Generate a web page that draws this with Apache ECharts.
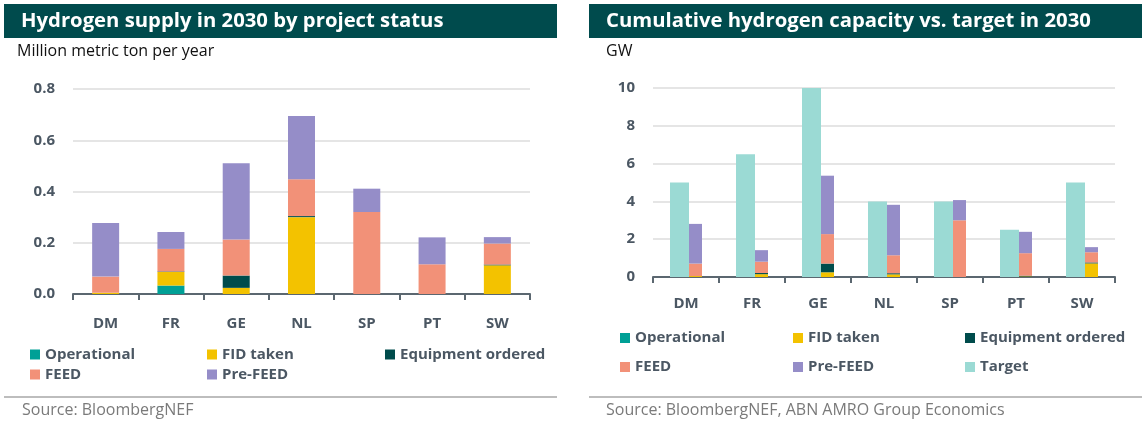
<!DOCTYPE html>
<html>
<head>
<meta charset="utf-8">
<script src="https://cdn.jsdelivr.net/npm/echarts@6/dist/echarts.min.js"></script>
<style>
html,body{margin:0;padding:0;background:#fff;}
#c{width:1147px;height:426px;}
</style>
</head>
<body>
<div id="c"></div>
<script>
// ---- Data ----
const categories = ['DM', 'FR', 'GE', 'NL', 'SP', 'PT', 'SW'];

// Left: Hydrogen supply in 2030 (million metric ton per year)
const supplyOperational = [0, 0.033, 0, 0, 0, 0, 0];
const supplyFid = [0.005, 0.053, 0.024, 0.300, 0, 0, 0.112];
const supplyEquipment = [0, 0.002, 0.048, 0.004, 0, 0, 0.003];
const supplyFeed = [0.063, 0.088, 0.141, 0.144, 0.320, 0.116, 0.082];
const supplyPreFeed = [0.209, 0.066, 0.297, 0.247, 0.091, 0.105, 0.025];
const supplyTicks = [0, 0.2, 0.4, 0.6, 0.8];

// Right: cumulative capacity vs target (GW)
const capTarget = [5, 6.5, 10, 4, 4, 2.5, 5];
const capOperational = [0, 0, 0, 0, 0, 0, 0];
const capFid = [0.05, 0.15, 0.25, 0.14, 0, 0.03, 0.72];
const capEquipment = [0, 0.06, 0.46, 0.06, 0, 0.04, 0.05];
const capFeed = [0.66, 0.60, 1.56, 0.95, 3.00, 1.19, 0.54];
const capPreFeed = [2.10, 0.61, 3.09, 2.67, 1.07, 1.13, 0.27];
const capTicks = [0, 2, 4, 6, 8, 10];

// ---- Styles ----
const C = {
  'Operational': '#00a096',
  'FID taken': '#f3c200',
  'Equipment ordered': '#004c4c',
  'FEED': '#f29178',
  'Pre-FEED': '#958dc8',
  'Target': '#9bdad4'
};
const FONT = 'Open Sans';
const labelColor = '#4b5763';
const header = '#004b4d';

const chart = echarts.init(document.getElementById('c'), null, {renderer: 'canvas'});

function stackSeries(name, data, xi, stack, width) {
  return {
    name: name, type: 'bar', stack: stack, data: data,
    xAxisIndex: xi, yAxisIndex: xi,
    barWidth: width, barGap: '0%',
    itemStyle: {color: C[name]},
    emphasis: {disabled: true},
    animation: false
  };
}

function legendCol(left, top, gap, items) {
  return {
    orient: 'vertical', left: left, top: top, itemGap: gap,
    itemWidth: 10, itemHeight: 10, icon: 'rect',
    data: items, selectedMode: false,
    textStyle: {fontFamily: FONT, fontWeight: 'bold', fontSize: 15, color: labelColor, lineHeight: 16, padding: [0, 0, 0, 0]}
  };
}

const xAxisCommon = {
  type: 'category', data: categories,
  axisLine: {show: true, lineStyle: {color: '#5b6770', width: 2}},
  axisTick: {show: true, length: 6, lineStyle: {color: '#5b6770', width: 2}},
  axisLabel: {fontFamily: FONT, fontWeight: 'bold', fontSize: 15, color: labelColor}
};
const yAxisCommon = {
  type: 'value',
  axisLine: {show: false}, axisTick: {show: false},
  splitLine: {lineStyle: {color: '#dcdcdc', width: 1.5}},
  axisLabel: {fontFamily: FONT, fontWeight: 'bold', fontSize: 15, color: labelColor, margin: 18}
};

const option = {
  animation: false,
  backgroundColor: '#fff',
  graphic: [
    {type: 'rect', shape: {x: 4, y: 4, width: 553, height: 34}, style: {fill: header}},
    {type: 'text', x: 21, y: 21, style: {text: 'Hydrogen supply in 2030 by project status', fill: '#fff', font: 'bold 20.3px "' + FONT + '"', textVerticalAlign: 'middle'}},
    {type: 'text', x: 17, y: 51, style: {text: 'Million metric ton per year', fill: '#111', font: '16px "' + FONT + '"', textVerticalAlign: 'middle'}},
    {type: 'line', shape: {x1: 4, y1: 397, x2: 557, y2: 397}, style: {stroke: '#bdbdbd', lineWidth: 2}},
    {type: 'text', x: 22, y: 410, style: {text: 'Source: BloombergNEF', fill: '#7a7a7a', font: '16px "' + FONT + '"', textVerticalAlign: 'middle'}},

    {type: 'rect', shape: {x: 589, y: 4, width: 553, height: 34}, style: {fill: header}},
    {type: 'text', x: 606, y: 21, style: {text: 'Cumulative hydrogen capacity vs. target in 2030', fill: '#fff', font: 'bold 20.3px "' + FONT + '"', textVerticalAlign: 'middle'}},
    {type: 'text', x: 606, y: 51, style: {text: 'GW', fill: '#111', font: '16px "' + FONT + '"', textVerticalAlign: 'middle'}},
    {type: 'line', shape: {x1: 589, y1: 397, x2: 1142, y2: 397}, style: {stroke: '#bdbdbd', lineWidth: 2}},
    {type: 'text', x: 606, y: 410, style: {text: 'Source: BloombergNEF, ABN AMRO Group Economics', fill: '#7a7a7a', font: '16px "' + FONT + '"', textVerticalAlign: 'middle'}}
  ],
  legend: [
    legendCol(25, 341.5, 4, ['Operational', 'FEED']),
    legendCol(202, 341.5, 4, ['FID taken', 'Pre-FEED']),
    legendCol(380, 341.5, 4, ['Equipment ordered']),
    legendCol(615, 325, 13, ['Operational', 'FEED']),
    legendCol(788, 325, 13, ['FID taken', 'Pre-FEED']),
    legendCol(960, 325, 13, ['Equipment ordered', 'Target'])
  ],
  grid: [
    {left: 73, right: 617, top: 89, bottom: 132},
    {left: 653, right: 32, top: 88, bottom: 149}
  ],
  xAxis: [
    Object.assign({}, xAxisCommon, {gridIndex: 0, axisLabel: Object.assign({}, xAxisCommon.axisLabel, {margin: 22})}),
    Object.assign({}, xAxisCommon, {gridIndex: 1, axisLabel: Object.assign({}, xAxisCommon.axisLabel, {margin: 19})})
  ],
  yAxis: [
    Object.assign({}, yAxisCommon, {gridIndex: 0, min: supplyTicks[0], max: supplyTicks[supplyTicks.length - 1], interval: supplyTicks[1] - supplyTicks[0],
      axisLabel: Object.assign({}, yAxisCommon.axisLabel, {formatter: v => v.toFixed(1)})}),
    Object.assign({}, yAxisCommon, {gridIndex: 1, min: capTicks[0], max: capTicks[capTicks.length - 1], interval: capTicks[1] - capTicks[0]})
  ],
  series: [
    stackSeries('Operational', supplyOperational, 0, 'supply', 27),
    stackSeries('FID taken', supplyFid, 0, 'supply', 27),
    stackSeries('Equipment ordered', supplyEquipment, 0, 'supply', 27),
    stackSeries('FEED', supplyFeed, 0, 'supply', 27),
    stackSeries('Pre-FEED', supplyPreFeed, 0, 'supply', 27),

    stackSeries('Target', capTarget, 1, 'target', 19),
    stackSeries('Operational', capOperational, 1, 'cap', 13),
    stackSeries('FID taken', capFid, 1, 'cap', 13),
    stackSeries('Equipment ordered', capEquipment, 1, 'cap', 13),
    stackSeries('FEED', capFeed, 1, 'cap', 13),
    stackSeries('Pre-FEED', capPreFeed, 1, 'cap', 13)
  ]
};
chart.setOption(option);
</script>
</body>
</html>
